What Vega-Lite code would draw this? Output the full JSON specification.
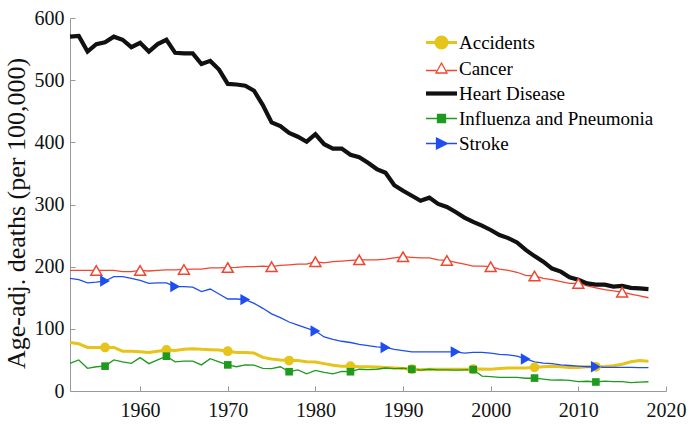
{
  "$schema": "https://vega.github.io/schema/vega-lite/v6.json",
  "width": 596,
  "height": 373,
  "autosize": {"type": "none"},
  "padding": {"left": 70, "top": 18, "right": 28, "bottom": 33},
  "background": "white",
  "config": {"view": {"stroke": null}, "legend": {"labelFont": "Liberation Serif", "labelFontSize": 19, "labelLimit": 400}},
  "data": {"values": [
    {"year":1952,"Accidents":78,"Cancer":194,"Heart Disease":570,"Influenza and Pneumonia":44.5,"Stroke":181},
    {"year":1953,"Accidents":76,"Cancer":194,"Heart Disease":571,"Influenza and Pneumonia":50,"Stroke":179},
    {"year":1954,"Accidents":70,"Cancer":194,"Heart Disease":546,"Influenza and Pneumonia":36.5,"Stroke":174},
    {"year":1955,"Accidents":70,"Cancer":194,"Heart Disease":558,"Influenza and Pneumonia":39,"Stroke":175},
    {"year":1956,"Accidents":70,"Cancer":194,"Heart Disease":561,"Influenza and Pneumonia":40,"Stroke":177},
    {"year":1957,"Accidents":70,"Cancer":194,"Heart Disease":570,"Influenza and Pneumonia":50,"Stroke":184},
    {"year":1958,"Accidents":64,"Cancer":192,"Heart Disease":565,"Influenza and Pneumonia":47,"Stroke":184},
    {"year":1959,"Accidents":64,"Cancer":192,"Heart Disease":553,"Influenza and Pneumonia":44.5,"Stroke":181},
    {"year":1960,"Accidents":63,"Cancer":194,"Heart Disease":560,"Influenza and Pneumonia":53.7,"Stroke":178},
    {"year":1961,"Accidents":62,"Cancer":193,"Heart Disease":546,"Influenza and Pneumonia":44,"Stroke":173},
    {"year":1962,"Accidents":64,"Cancer":194,"Heart Disease":558,"Influenza and Pneumonia":50,"Stroke":174},
    {"year":1963,"Accidents":66,"Cancer":195,"Heart Disease":565,"Influenza and Pneumonia":56,"Stroke":174},
    {"year":1964,"Accidents":65,"Cancer":195,"Heart Disease":544,"Influenza and Pneumonia":47,"Stroke":168},
    {"year":1965,"Accidents":67,"Cancer":195.5,"Heart Disease":543,"Influenza and Pneumonia":48,"Stroke":168},
    {"year":1966,"Accidents":68,"Cancer":196,"Heart Disease":543,"Influenza and Pneumonia":48,"Stroke":167},
    {"year":1967,"Accidents":67,"Cancer":196,"Heart Disease":526,"Influenza and Pneumonia":42,"Stroke":160},
    {"year":1968,"Accidents":66.5,"Cancer":198,"Heart Disease":531,"Influenza and Pneumonia":52,"Stroke":164},
    {"year":1969,"Accidents":66,"Cancer":198,"Heart Disease":517,"Influenza and Pneumonia":47,"Stroke":156},
    {"year":1970,"Accidents":64,"Cancer":198.6,"Heart Disease":494,"Influenza and Pneumonia":42,"Stroke":148},
    {"year":1971,"Accidents":62,"Cancer":199,"Heart Disease":493,"Influenza and Pneumonia":39,"Stroke":148},
    {"year":1972,"Accidents":62,"Cancer":200,"Heart Disease":491,"Influenza and Pneumonia":42,"Stroke":147},
    {"year":1973,"Accidents":61,"Cancer":200,"Heart Disease":483,"Influenza and Pneumonia":41.5,"Stroke":141},
    {"year":1974,"Accidents":54,"Cancer":201,"Heart Disease":460,"Influenza and Pneumonia":36.5,"Stroke":133},
    {"year":1975,"Accidents":51.5,"Cancer":200,"Heart Disease":432,"Influenza and Pneumonia":36,"Stroke":124},
    {"year":1976,"Accidents":50,"Cancer":202,"Heart Disease":426,"Influenza and Pneumonia":39,"Stroke":118},
    {"year":1977,"Accidents":49,"Cancer":203,"Heart Disease":415,"Influenza and Pneumonia":31,"Stroke":111},
    {"year":1978,"Accidents":49,"Cancer":204,"Heart Disease":409,"Influenza and Pneumonia":34,"Stroke":106},
    {"year":1979,"Accidents":47,"Cancer":204,"Heart Disease":401,"Influenza and Pneumonia":27.5,"Stroke":101},
    {"year":1980,"Accidents":46.5,"Cancer":208,"Heart Disease":413,"Influenza and Pneumonia":33,"Stroke":96.5},
    {"year":1981,"Accidents":44,"Cancer":206,"Heart Disease":397,"Influenza and Pneumonia":30,"Stroke":87},
    {"year":1982,"Accidents":41.5,"Cancer":208,"Heart Disease":390,"Influenza and Pneumonia":27.5,"Stroke":83},
    {"year":1983,"Accidents":40,"Cancer":209,"Heart Disease":390,"Influenza and Pneumonia":31.5,"Stroke":80},
    {"year":1984,"Accidents":40,"Cancer":210,"Heart Disease":380,"Influenza and Pneumonia":31,"Stroke":78},
    {"year":1985,"Accidents":39,"Cancer":211,"Heart Disease":376,"Influenza and Pneumonia":35,"Stroke":75},
    {"year":1986,"Accidents":39,"Cancer":211,"Heart Disease":367,"Influenza and Pneumonia":34.5,"Stroke":73},
    {"year":1987,"Accidents":38.5,"Cancer":211,"Heart Disease":357,"Influenza and Pneumonia":35,"Stroke":71},
    {"year":1988,"Accidents":38,"Cancer":212,"Heart Disease":351,"Influenza and Pneumonia":37,"Stroke":70},
    {"year":1989,"Accidents":37,"Cancer":214,"Heart Disease":331,"Influenza and Pneumonia":36,"Stroke":67},
    {"year":1990,"Accidents":36,"Cancer":216,"Heart Disease":322,"Influenza and Pneumonia":36.8,"Stroke":65},
    {"year":1991,"Accidents":35,"Cancer":215,"Heart Disease":314,"Influenza and Pneumonia":35,"Stroke":63},
    {"year":1992,"Accidents":34,"Cancer":214,"Heart Disease":306,"Influenza and Pneumonia":33.5,"Stroke":63},
    {"year":1993,"Accidents":35,"Cancer":214,"Heart Disease":311,"Influenza and Pneumonia":35,"Stroke":63},
    {"year":1994,"Accidents":35,"Cancer":211,"Heart Disease":301,"Influenza and Pneumonia":34,"Stroke":63},
    {"year":1995,"Accidents":35,"Cancer":210,"Heart Disease":296,"Influenza and Pneumonia":34,"Stroke":63},
    {"year":1996,"Accidents":35,"Cancer":207,"Heart Disease":288,"Influenza and Pneumonia":33.5,"Stroke":63},
    {"year":1997,"Accidents":35,"Cancer":204,"Heart Disease":279,"Influenza and Pneumonia":34,"Stroke":61},
    {"year":1998,"Accidents":35,"Cancer":201,"Heart Disease":272,"Influenza and Pneumonia":34.5,"Stroke":62},
    {"year":1999,"Accidents":35.5,"Cancer":201,"Heart Disease":266,"Influenza and Pneumonia":24,"Stroke":62},
    {"year":2000,"Accidents":35,"Cancer":200,"Heart Disease":259,"Influenza and Pneumonia":23,"Stroke":61},
    {"year":2001,"Accidents":36,"Cancer":196,"Heart Disease":251,"Influenza and Pneumonia":22,"Stroke":59},
    {"year":2002,"Accidents":37,"Cancer":194,"Heart Disease":246,"Influenza and Pneumonia":22,"Stroke":58},
    {"year":2003,"Accidents":37,"Cancer":191,"Heart Disease":239,"Influenza and Pneumonia":22,"Stroke":56},
    {"year":2004,"Accidents":37,"Cancer":186,"Heart Disease":227,"Influenza and Pneumonia":20.5,"Stroke":51.5},
    {"year":2005,"Accidents":38,"Cancer":185,"Heart Disease":217,"Influenza and Pneumonia":20.8,"Stroke":47},
    {"year":2006,"Accidents":39,"Cancer":181,"Heart Disease":208,"Influenza and Pneumonia":19,"Stroke":45},
    {"year":2007,"Accidents":40,"Cancer":179,"Heart Disease":197,"Influenza and Pneumonia":17.5,"Stroke":44},
    {"year":2008,"Accidents":39,"Cancer":176,"Heart Disease":192,"Influenza and Pneumonia":17.8,"Stroke":42},
    {"year":2009,"Accidents":38,"Cancer":173,"Heart Disease":183,"Influenza and Pneumonia":17,"Stroke":41},
    {"year":2010,"Accidents":38,"Cancer":173,"Heart Disease":179,"Influenza and Pneumonia":15,"Stroke":40},
    {"year":2011,"Accidents":39,"Cancer":169,"Heart Disease":173,"Influenza and Pneumonia":15.7,"Stroke":39},
    {"year":2012,"Accidents":39,"Cancer":166,"Heart Disease":171,"Influenza and Pneumonia":14.5,"Stroke":39},
    {"year":2013,"Accidents":39.4,"Cancer":163,"Heart Disease":171,"Influenza and Pneumonia":15.9,"Stroke":38},
    {"year":2014,"Accidents":40.5,"Cancer":161,"Heart Disease":168,"Influenza and Pneumonia":15.1,"Stroke":38},
    {"year":2015,"Accidents":43,"Cancer":159,"Heart Disease":169,"Influenza and Pneumonia":15.2,"Stroke":38},
    {"year":2016,"Accidents":47,"Cancer":156,"Heart Disease":166,"Influenza and Pneumonia":13.5,"Stroke":38},
    {"year":2017,"Accidents":49,"Cancer":153,"Heart Disease":165,"Influenza and Pneumonia":14.3,"Stroke":37.6},
    {"year":2018,"Accidents":48,"Cancer":150,"Heart Disease":164,"Influenza and Pneumonia":14.9,"Stroke":37.5}
  ]},
  "transform": [
    {"fold": ["Accidents", "Cancer", "Heart Disease", "Influenza and Pneumonia", "Stroke"], "as": ["disease", "rate"]}
  ],
  "encoding": {
    "x": {"field": "year", "type": "quantitative",
      "scale": {"domain": [1952, 2020], "nice": false, "zero": false},
      "axis": {"values": [1960, 1970, 1980, 1990, 2000, 2010, 2020], "format": "d", "grid": false, "title": null,
        "domainColor": "#999999", "tickColor": "#999999", "tickSize": -5, "labelPadding": 14, "labelFlush": false, "labelOverlap": false,
        "labelFont": "Liberation Serif", "labelFontSize": 20, "labelColor": "#111111"}},
    "y": {"field": "rate", "type": "quantitative",
      "scale": {"domain": [0, 600], "nice": false},
      "axis": {"values": [0, 100, 200, 300, 400, 500, 600], "grid": false, "title": "Age-adj. deaths (per 100,000)",
        "domainColor": "#999999", "tickColor": "#999999", "tickSize": -5, "labelPadding": 11, "labelOverlap": false,
        "labelFont": "Liberation Serif", "labelFontSize": 20, "labelColor": "#111111",
        "titleFont": "Liberation Serif", "titleFontSize": 26, "titleFontWeight": "normal", "titleColor": "#111111", "titlePadding": 5, "titleY": 195}}
  },
  "layer": [
    {
      "mark": {"type": "line"},
      "encoding": {
        "color": {"field": "disease", "type": "nominal",
          "scale": {"domain": ["Accidents", "Cancer", "Heart Disease", "Influenza and Pneumonia", "Stroke"],
                    "range": ["#E6C419", "#F2452F", "#111111", "#1E9A1E", "#1F4EF0"]},
          "legend": {"title": null, "orient": "none", "legendX": 362, "legendY": 15, "padding": 0,
            "direction": "vertical",
            "labelFont": "Liberation Serif", "labelFontSize": 19, "labelColor": "#000000", "labelOffset": 8, "labelLimit": 400,
            "symbolSize": 100, "rowPadding": 5,
            "encode": {
              "labels": {"update": {"font": {"value": "Liberation Serif"}, "fontSize": {"value": 19}, "fill": {"value": "#000000"}}},
              "symbols": {"update": {
              "shape": {"signal": "datum.value === 'Accidents' ? 'M-3.1,0H-1.1M1.1,0H3.1M1.1,0A1.1,1.1 0 1,1 -1.1,0A1.1,1.1 0 1,1 1.1,0Z' : datum.value === 'Cancer' ? 'M-3.1,0.4H-1M1,0.4H3.1M0,-1.1L1.1,0.9L-1.1,0.9Z' : datum.value === 'Heart Disease' ? 'M-3.1,0H3.1' : datum.value === 'Influenza and Pneumonia' ? 'M-3.1,0H3.1M-0.8,-0.8H0.8V0.8H-0.8Z' : 'M-3.1,0H3.1M-1,-1.1L1.2,0L-1,1.1Z'"},
              "fill": {"signal": "datum.value === 'Accidents' ? '#E6C419' : datum.value === 'Cancer' ? '#ffffff' : datum.value === 'Heart Disease' ? 'transparent' : datum.value === 'Influenza and Pneumonia' ? '#1E9A1E' : '#1F4EF0'"},
              "stroke": {"signal": "datum.value === 'Accidents' ? '#E6C419' : datum.value === 'Cancer' ? '#F2452F' : datum.value === 'Heart Disease' ? '#111111' : datum.value === 'Influenza and Pneumonia' ? '#1E9A1E' : '#1F4EF0'"},
              "strokeWidth": {"signal": "datum.value === 'Heart Disease' ? 4 : datum.value === 'Accidents' ? 2 : 1.4"},
              "opacity": {"value": 1}
            }}}}
        },
        "strokeWidth": {"field": "disease", "type": "nominal",
          "scale": {"type": "ordinal", "domain": ["Accidents", "Cancer", "Heart Disease", "Influenza and Pneumonia", "Stroke"], "range": [3, 1.3, 4.2, 1.3, 1.3]},
          "legend": null}
      }
    },
    {
      "transform": [{"filter": "datum.disease === 'Accidents' && datum.year >= 1956 && (datum.year - 1956) % 7 === 0"}],
      "mark": {"type": "point", "shape": "circle", "filled": true, "color": "#E6C419", "size": 95, "opacity": 1}
    },
    {
      "transform": [{"filter": "datum.disease === 'Cancer' && datum.year % 5 === 0"}],
      "mark": {"type": "point", "shape": "triangle-up", "filled": true, "fill": "#ffffff", "stroke": "#F2452F", "strokeWidth": 1.5, "size": 120, "opacity": 1}
    },
    {
      "transform": [{"filter": "datum.disease === 'Influenza and Pneumonia' && datum.year >= 1956 && (datum.year - 1956) % 7 === 0"}],
      "mark": {"type": "point", "shape": "square", "filled": true, "color": "#1E9A1E", "size": 58, "opacity": 1}
    },
    {
      "transform": [{"filter": "datum.disease === 'Stroke' && datum.year >= 1956 && datum.year <= 2012 && (datum.year - 1956) % 8 === 0"}],
      "mark": {"type": "point", "shape": "triangle-right", "filled": true, "color": "#1F4EF0", "size": 130, "opacity": 1}
    }
  ]
}
